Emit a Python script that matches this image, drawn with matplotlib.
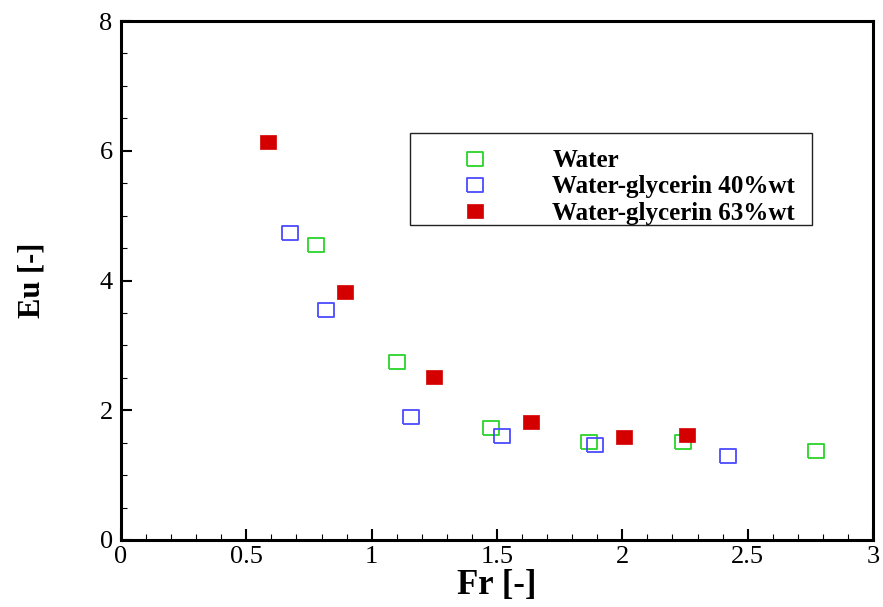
import matplotlib
matplotlib.use("Agg")
import matplotlib.pyplot as plt
from matplotlib.patches import Rectangle
from matplotlib.ticker import MultipleLocator

# Data
water_fr = [0.776, 1.102, 1.476, 1.866, 2.244, 2.774]
water_eu = [4.55, 2.74, 1.73, 1.51, 1.51, 1.37]
gly40_fr = [0.673, 0.816, 1.158, 1.520, 1.890, 2.423]
gly40_eu = [4.73, 3.54, 1.90, 1.60, 1.46, 1.30]
gly63_fr = [0.585, 0.895, 1.250, 1.635, 2.005, 2.256]
gly63_eu = [6.13, 3.82, 2.51, 1.82, 1.58, 1.62]
labels = ["Water", "Water-glycerin 40%wt", "Water-glycerin 63%wt"]
xticks = [0, 0.5, 1, 1.5, 2, 2.5, 3]
xticklabels = ["0", "0.5", "1", "1.5", "2", "2.5", "3"]
yticks = [0, 2, 4, 6, 8]

plt.rcParams['font.family'] = ['Liberation Serif', 'DejaVu Serif']

fig = plt.figure(figsize=(8.83, 6.07), dpi=100)
ax = fig.add_axes([121/883, 67/607, 752/883, 519/607])

rect = [(-1, -0.85), (1, -0.85), (1, 0.85), (-1, 0.85), (-1, -0.85)]
ms = 11.5
h1, = ax.plot(water_fr, water_eu, ls='none', marker=rect, ms=ms, mfc='none',
              mec='#2ad42a', mew=1.3, label=labels[0])
h2, = ax.plot(gly40_fr, gly40_eu, ls='none', marker=rect, ms=ms, mfc='none',
              mec='#4a4aff', mew=1.3, label=labels[1])
h3, = ax.plot(gly63_fr, gly63_eu, ls='none', marker=rect, ms=ms, mfc='#d40000',
              mec='#d40000', mew=0.5, label=labels[2])

ax.set_xlim(0, 3)
ax.set_ylim(0, 8)
ax.set_xticks(xticks)
ax.set_xticklabels(xticklabels)
ax.set_yticks(yticks)
ax.xaxis.set_minor_locator(MultipleLocator(0.1))
ax.yaxis.set_minor_locator(MultipleLocator(0.5))
ax.tick_params(which='major', direction='in', length=8, width=1.5,
               labelsize=19, top=False, right=False)
ax.tick_params(axis='x', which='major', pad=4)
ax.tick_params(axis='y', which='major', pad=6)
ax.tick_params(which='minor', direction='in', length=4.3, width=0.8,
               top=False, right=False)
for s in ax.spines.values():
    s.set_linewidth(2.2)

ax.set_xlabel("Fr [-]", fontsize=25, fontweight='bold')
ax.set_ylabel("Eu [-]", fontsize=22, fontweight='bold')
ax.xaxis.set_label_coords(0.5, (540 - 569) / 519)
ax.yaxis.set_label_coords((46 - 121) / 752, 0.5)

# legend frame and legend
x0, x1 = (410-121)/752, (812-121)/752
y0, y1 = (540-225)/519, (540-133)/519
ax.add_patch(Rectangle((x0, y0), x1-x0, y1-y0, transform=ax.transAxes,
                       fill=False, ec='#222222', lw=1.0, zorder=5))
leg = ax.legend(handles=[h1, h2, h3], loc='center left',
                bbox_to_anchor=(x0 - 13/752, (540-187)/519), frameon=False,
                prop={'weight': 'bold', 'size': 18},
                handlelength=4.4, handletextpad=0.92, borderpad=0.4,
                labelspacing=0.13, numpoints=1)

fig.savefig("out.png", dpi=100)
